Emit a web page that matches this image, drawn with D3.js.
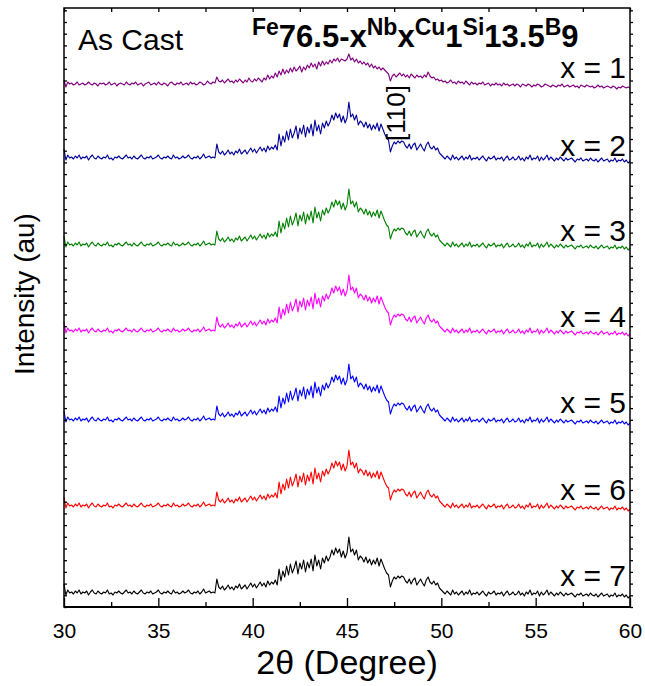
<!DOCTYPE html>
<html>
<head>
<meta charset="utf-8">
<script src="https://cdn.jsdelivr.net/npm/d3@7/dist/d3.min.js"></script>
<style>
  body { margin: 0; background: #fff; }
  svg text { font-family: "Liberation Sans", Arial, sans-serif; }
</style>
</head>
<body>
<div id="chart"></div>
<script>
// XRD patterns, as cast ribbons, stacked with an offset each
var thetaStart = 30, thetaStep = 0.1;   // 30.0 .. 60.0 deg, 301 points

var sampleLabels = ["x = 1", "x = 2", "x = 3", "x = 4", "x = 5", "x = 6", "x = 7"];
var sampleColors = ["#800080", "#000099", "#008000", "#ff00ff", "#0000ff", "#ff0000", "#000000"];
var sampleOffsets = [523, 449, 362, 276, 187, 101, 14];

// x = 1 (flatter hump)
var patternX1 = [
   4, -3,  2,  0,  1, -1,  0,  2, -1,  0,
   1, -1,  0,  2,  0, -1,  1,  0, -2,  1,
   0,  1, -1,  0,  2, -1,  0,  1, -2,  0,
   1,  0, -1,  2,  0, -1,  1,  0,  2, -1,
   0,  1, -2,  0,  1,  2, -1,  0,  1, -1,
   2,  0, -1,  1,  0, -2,  1,  2,  0, -1,
   1,  0,  2, -1,  0,  1, -1,  2,  0,  1,
  -1,  0,  2,  1, -1,  0,  3,  1,  0,  2,
   1,  7,  3,  2,  4,  1,  3,  5,  2,  3,
   1,  4,  2,  5,  3,  1,  4,  2,  6,  3,
   2,  5,  3,  6,  4,  2,  6,  4,  9,  5,
   8,  6, 11,  7, 13,  9, 15, 10, 14, 11,
  16, 12, 17, 13, 15, 18, 12, 17, 14, 19,
  16, 21, 17, 20, 15, 22, 18, 23, 19, 22,
  20, 24, 21, 25, 23, 26, 22, 25, 24, 23,
  25, 30, 24, 26, 22, 25, 21, 23, 20, 22,
  19, 21, 17, 20, 16, 18, 15, 17, 14, 16,
  14, 12, 10,  3,  8, 10,  7,  9, 11,  8,
  10,  7,  9,  6, 10,  8,  6,  9,  7,  8,
   6,  9,  7, 12,  8,  6,  7,  4,  5,  3,
   4,  2,  3,  1,  2,  4,  1,  2,  0,  3,
   1,  2,  0,  3,  1, -1,  2,  0,  1, -1,
   1,  0,  2, -1,  0,  1, -2,  0, -1,  1,
  -1,  0, -2,  1, -1,  0, -2, -1,  0, -2,
   0, -1, -3,  0, -1, -2,  0, -1, -3, -1,
  -2,  0, -1, -3, -2,  0, -1, -2, -3, -1,
  -2, -3, -1, -2,  0, -3, -2, -1, -3, -2,
  -1, -3, -2, -4, -1, -2, -3, -1, -2, -3,
  -2, -4, -3, -1, -3, -2, -4, -3, -2, -3,
  -4, -2, -3, -5, -3, -4, -2, -3, -4, -3, -4
];

// x = 2 .. 7 (the picture shows the same trace for all of them)
var patternX2to7 = [
   9, -2,  3,  0,  1, -1,  2,  0,  3, -1,
   1,  0,  2, -2,  1,  3,  0, -1,  2,  0,
  -1,  1,  0,  3, -1,  0, -2,  1,  0,  2,
   0, -1,  1,  3,  0,  1, -1,  2,  0, -1,
   1,  3,  0, -1,  1,  0,  2, -1,  0,  1,
   3,  0, -1,  1,  0,  2,  0, -1,  3,  0,
   1, -1,  0,  2,  0,  1,  3,  0, -1,  1,
   0,  2, -1,  1,  4,  0,  1,  2,  0,  1,
   0, 14,  6,  4,  7,  3,  5,  8,  4,  6,
   3,  7,  5,  9,  4,  6,  8,  4,  7, 10,
   6,  9,  5,  8, 11,  7, 10,  6, 12,  8,
  11,  9, 13,  8, 24, 12, 22, 16, 27, 18,
  29, 20, 25, 32, 19, 30, 24, 33, 21, 31,
  25, 34, 22, 38, 27, 33, 24, 35, 30, 37,
  32, 36, 43, 38, 45, 40, 44, 36, 42, 35,
  40, 56, 41, 44, 38, 43, 33, 37, 35, 31,
  36, 30, 34, 28, 33, 29, 35, 27, 34, 29,
  24, 20, 18,  6, 12, 16, 14, 17, 15, 17,
  16, 12, 10, 14,  9, 13, 15,  8, 11, 14,
  10,  7, 13, 16, 11,  9, 12,  8, 10,  5,
   3,  1, -1,  2,  0, -2,  3, -1,  1, -2,
   0,  2, -2,  1, -1,  3, -2,  0, -1,  1,
  -2,  0,  2, -1, -3,  1, -1,  0,  2, -2,
   0, -1,  1, -3,  0,  2, -2, -1,  1, -2,
  -1,  2, -2,  0, -3,  1, -1,  3, -2,  0,
  -1,  2, -3,  1, -2,  0,  3, -2,  1, -1,
  -3,  0, -2,  1, -1, -3,  0, -2, -1,  0,
  -2, -4, -1, -2,  0, -3, -2, -1, -3,  0,
  -2, -3, -1, -4, -2,  0, -3, -2, -1, -4,
  -2, -3,  0, -4, -2, -3, -1, -4, -2, -5, -3
];

var samplePatterns = [patternX1, patternX2to7, patternX2to7, patternX2to7,
                      patternX2to7, patternX2to7, patternX2to7];

var xMajorTicks = [30, 35, 40, 45, 50, 55, 60];
var xMinorTicks = [32.5, 37.5, 42.5, 47.5, 52.5, 57.5];

var W = 645, H = 686;
var plotL = 64, plotR = 630, plotT = 8, plotB = 607;

var svg = d3.select("#chart").append("svg")
    .attr("width", W).attr("height", H);

var x = d3.scaleLinear().domain([30, 60]).range([plotL, plotR]);
var y = d3.scaleLinear().domain([0, 599]).range([plotB, plotT]);

//---------------------------------------------------------------------
// traces
var line = d3.line()
    .x(function(d, i){ return x(thetaStart + i * thetaStep); })
    .y(function(d){ return y(d); });

var series = sampleLabels.map(function(lab, k){
    return {
        label: lab,
        color: sampleColors[k],
        values: samplePatterns[k].map(function(v){ return v + sampleOffsets[k]; })
    };
});

svg.append("g").selectAll("path")
    .data(series).enter().append("path")
    .attr("d", function(s){ return line(s.values); })
    .attr("fill", "none")
    .attr("stroke", function(s){ return s.color; })
    .attr("stroke-width", 1.1)
    .attr("stroke-linejoin", "round");

//---------------------------------------------------------------------
// axes
var gx = svg.append("g").attr("transform", "translate(0," + plotB + ")")
    .call(d3.axisBottom(x).tickValues(xMajorTicks).tickSize(-9).tickPadding(16)
        .tickFormat(d3.format("d")));
svg.append("g").attr("transform", "translate(0," + plotB + ")")
    .call(d3.axisBottom(x).tickValues(xMinorTicks).tickSize(-5).tickFormat(""));
svg.append("g").attr("transform", "translate(0," + plotT + ")")
    .call(d3.axisTop(x).tickValues(xMajorTicks.concat(xMinorTicks)).tickSize(-4).tickFormat(""));

var yTicks = d3.range(0, 600, 11.7);
svg.append("g").attr("transform", "translate(" + plotL + ",0)")
    .call(d3.axisLeft(y).tickValues(yTicks).tickSize(-3).tickFormat(""));
svg.append("g").attr("transform", "translate(" + plotR + ",0)")
    .call(d3.axisRight(y).tickValues(yTicks).tickSize(3).tickFormat(""));

svg.selectAll(".domain").remove();
svg.selectAll(".tick line").attr("stroke", "#000").attr("stroke-width", 1.3);
gx.selectAll("text").attr("font-size", 21).attr("fill", "#000")
    .attr("font-family", "'Liberation Sans', Arial, sans-serif");

// frame
svg.append("rect")
    .attr("x", plotL).attr("y", plotT)
    .attr("width", plotR - plotL).attr("height", plotB - plotT)
    .attr("fill", "none").attr("stroke", "#000").attr("stroke-width", 1.5);
svg.append("line")
    .attr("x1", plotL).attr("x2", plotR).attr("y1", plotB).attr("y2", plotB)
    .attr("stroke", "#000").attr("stroke-width", 2.2);

//---------------------------------------------------------------------
// labels
var labelBase = [78, 156, 241, 327, 413, 500, 586];
svg.append("g").selectAll("text")
    .data(series).enter().append("text")
    .attr("x", 626)
    .attr("y", function(d, i){ return labelBase[i]; })
    .attr("text-anchor", "end")
    .attr("font-size", 30)
    .text(function(d){ return d.label; });

svg.append("text")
    .attr("x", 78).attr("y", 50)
    .attr("font-size", 30)
    .text("As Cast");

// Fe76.5-xNbxCu1Si13.5B9
var formula = [["Fe", 0], ["76.5-x", 1], ["Nb", 0], ["x", 1], ["Cu", 0], ["1", 1],
               ["Si", 0], ["13.5", 1], ["B", 0], ["9", 1]];
var ft = svg.append("text").attr("x", 252).attr("y", 35).attr("font-weight", "bold");
formula.forEach(function(p){
    ft.append("tspan")
        .attr("y", p[1] ? 47 : 35)
        .attr("font-size", p[1] ? 31 : 23)
        .text(p[0]);
});

svg.append("text")
    .attr("transform", "translate(405,113) rotate(-90)")
    .attr("text-anchor", "middle")
    .attr("font-size", 26)
    .text("[110]");

svg.append("text")
    .attr("x", 347).attr("y", 674)
    .attr("text-anchor", "middle")
    .attr("font-size", 34)
    .text("2\u03b8 (Degree)");

svg.append("text")
    .attr("transform", "translate(34,294) rotate(-90)")
    .attr("text-anchor", "middle")
    .attr("font-size", 28)
    .text("Intensity (au)");
</script>
</body>
</html>
